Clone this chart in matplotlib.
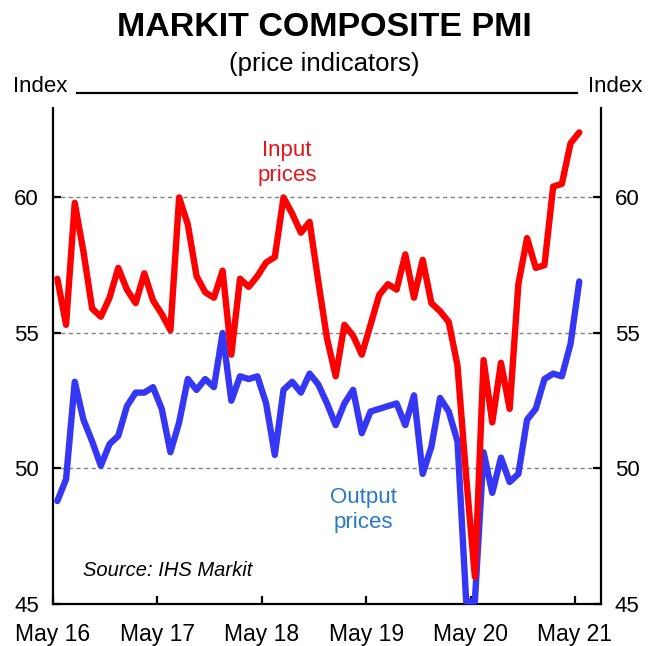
import numpy as np
import matplotlib
matplotlib.use("Agg")
import matplotlib.pyplot as plt

plt.rcParams['font.family'] = ['Liberation Sans', 'DejaVu Sans']

# Monthly data, May 2016 .. May 2021
input_prices = [57.0, 55.3, 59.8, 58.0, 55.9, 55.6, 56.3, 57.4, 56.6, 56.1,
                57.2, 56.2, 55.7, 55.1, 60.0, 59.0, 57.1, 56.5, 56.3, 57.3,
                54.2, 57.0, 56.7, 57.1, 57.6, 57.8, 60.0, 59.4, 58.7, 59.1,
                56.9, 54.8, 53.4, 55.3, 54.9, 54.2, 55.3, 56.4, 56.8, 56.6,
                57.9, 56.3, 57.7, 56.1, 55.8, 55.4, 53.8, 49.7, 46.0, 54.0,
                51.7, 53.9, 52.2, 56.8, 58.5, 57.4, 57.5, 60.4, 60.5, 62.0,
                62.4]
output_prices = [48.8, 49.6, 53.2, 51.8, 51.0, 50.1, 50.9, 51.2, 52.3, 52.8,
                 52.8, 53.0, 52.2, 50.6, 51.7, 53.3, 52.9, 53.3, 53.0, 55.0,
                 52.5, 53.4, 53.3, 53.4, 52.4, 50.5, 52.9, 53.2, 52.8, 53.5,
                 53.1, 52.4, 51.6, 52.4, 52.9, 51.3, 52.1, 52.2, 52.3, 52.4,
                 51.6, 52.7, 49.8, 50.8, 52.6, 52.1, 51.0, 45.1, 45.1, 50.6,
                 49.1, 50.4, 49.5, 49.8, 51.8, 52.2, 53.3, 53.5, 53.4, 54.6,
                 56.9]
tick_labels = ['May 16', 'May 17', 'May 18', 'May 19', 'May 20', 'May 21']
y_ticks = [45, 50, 55, 60]

months = np.arange(len(input_prices)) + 0.5   # mid-month positions
tick_pos = np.arange(len(tick_labels)) * 12

fig = plt.figure(figsize=(6.49, 6.46), dpi=100)
ax = fig.add_axes([53/649, 1-604/646, (601-53)/649, (604-108)/646])

for y in y_ticks[1:]:
    ax.axhline(y, color='#808080', lw=1.0, ls=(0, (3, 2.5)), zorder=1)

ax.plot(months, output_prices, color='#3636F5', lw=4.6, zorder=3,
        solid_joinstyle='round', solid_capstyle='round', clip_on=False)
ax.plot(months, input_prices, color='#FF0000', lw=4.6, zorder=4,
        solid_joinstyle='round', solid_capstyle='round')

ax.set_xlim(0, 63)
ax.set_ylim(45, 63.3)
ax.set_yticks(y_ticks)
ax.set_xticks(tick_pos)
ax.set_xticklabels(tick_labels)

ax.spines['top'].set_visible(False)
for s in ['left', 'right', 'bottom']:
    ax.spines[s].set_linewidth(1.6)

ax.tick_params(axis='y', direction='in', length=6, width=1.6, labelsize=16,
               left=True, right=True, labelleft=True, labelright=True, pad=10)
ax.tick_params(axis='x', direction='in', length=6, width=1.6, labelsize=16.5, pad=14)

# titles
fig.text(0.5, 1-28/646, 'MARKIT COMPOSITE PMI', ha='center', va='center',
         fontsize=24.5, fontweight='bold')
fig.text(0.5, 1-64/646, '(price indicators)', ha='center', va='center',
         fontsize=18.5)
fig.text(40/649, 1-87/646, 'Index', ha='center', va='center', fontsize=16)
fig.text(615/649, 1-87/646, 'Index', ha='center', va='center', fontsize=16)
fig.add_artist(plt.Line2D([77/649, 577/649], [1-93/646, 1-93/646],
                          color='black', lw=1.6))

fig.text(287/649, 1-163/646, 'Input\nprices', ha='center', va='center',
         fontsize=16, color='#E8141C', linespacing=1.25)
fig.text(363/649, 1-510/646, 'Output\nprices', ha='center', va='center',
         fontsize=16, color='#2878C8', linespacing=1.25)
fig.text(83/649, 1-570/646, 'Source: IHS Markit', ha='left', va='center',
         fontsize=14.5, fontstyle='italic')

fig.savefig('out.png', dpi=100)
